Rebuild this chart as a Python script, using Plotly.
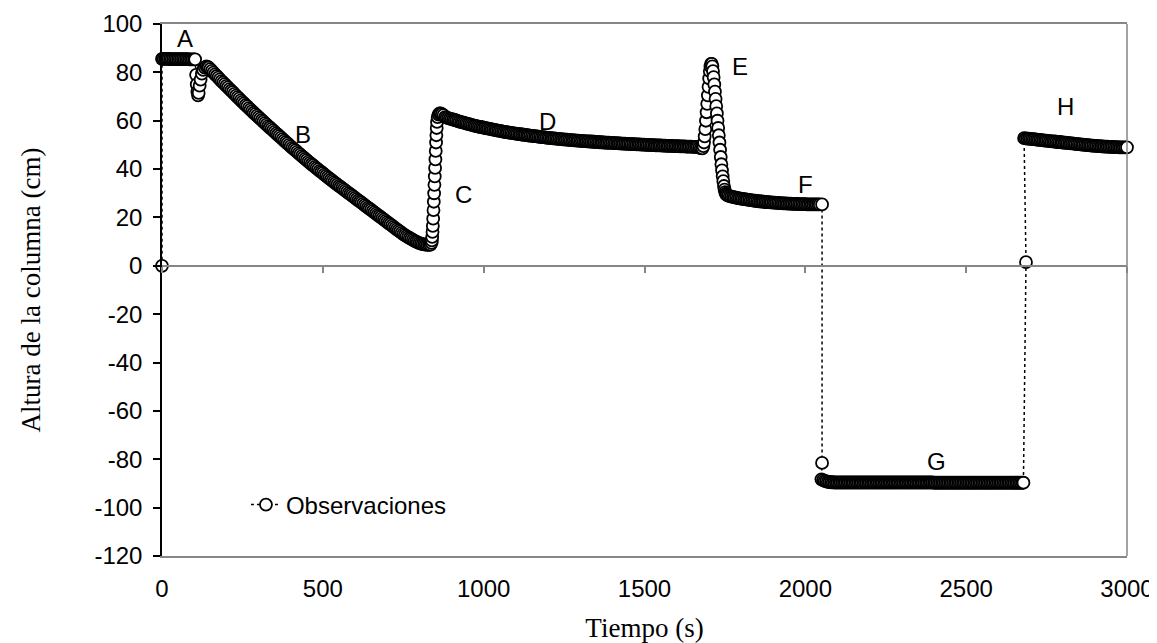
import plotly.graph_objects as go

# ---------------- data ----------------
# A: start + initial plateau
time_A = [0, 0, 5, 10, 15, 20, 25, 30, 35, 40, 45, 50, 55, 60, 65, 70, 75, 80, 85, 90, 95, 100, 103]
height_A = [0.0, 85.6, 85.6, 85.6, 85.6, 85.6, 85.5, 85.5, 85.5, 85.5, 85.5, 85.5, 85.5, 85.5,
            85.5, 85.5, 85.5, 85.5, 85.4, 85.4, 85.4, 85.4, 85.4]

# A -> B dip
time_AB = [106, 108, 110, 112, 114, 117, 120, 124, 128, 133, 138, 142]
height_AB = [79.0, 75.0, 72.0, 70.5, 71.5, 74.5, 77.0, 79.5, 81.0, 82.0, 82.5, 82.3]

# B: draining
time_B = [145, 150, 155, 160, 165, 170, 175, 180, 185, 190,
          195, 200, 205, 210, 215, 220, 225, 230, 235, 240,
          245, 250, 255, 260, 265, 270, 275, 280, 285, 290,
          295, 300, 305, 310, 315, 320, 325, 330, 335, 340,
          345, 350, 355, 360, 365, 370, 375, 380, 385, 390,
          395, 400, 405, 410, 415, 420, 425, 430, 435, 440,
          445, 450, 455, 460, 465, 470, 475, 480, 485, 490,
          495, 500, 505, 510, 515, 520, 525, 530, 535, 540,
          545, 550, 555, 560, 565, 570, 575, 580, 585, 590,
          595, 600, 605, 610, 615, 620, 625, 630, 635, 640,
          645, 650, 655, 660, 665, 670, 675, 680, 685, 690,
          695, 700, 705, 710, 715, 720, 725, 730, 735, 740,
          745, 750, 755, 760, 765, 770, 775, 780, 785, 790,
          795, 800, 805, 810, 815, 820, 825, 830, 835]
height_B = [82.0, 81.3, 80.6, 79.9, 79.2, 78.5, 77.8, 77.1, 76.4, 75.8,
            75.1, 74.4, 73.8, 73.1, 72.4, 71.8, 71.1, 70.4, 69.8, 69.1,
            68.4, 67.8, 67.2, 66.5, 65.9, 65.2, 64.6, 64.0, 63.3, 62.7,
            62.1, 61.5, 60.9, 60.2, 59.6, 59.0, 58.4, 57.8, 57.2, 56.6,
            56.0, 55.4, 54.8, 54.2, 53.6, 53.0, 52.4, 51.8, 51.2, 50.6,
            50.0, 49.4, 48.8, 48.3, 47.7, 47.1, 46.5, 46.0, 45.4, 44.8,
            44.2, 43.7, 43.1, 42.6, 42.0, 41.5, 40.9, 40.4, 39.9, 39.3,
            38.8, 38.3, 37.7, 37.2, 36.7, 36.2, 35.6, 35.1, 34.6, 34.1,
            33.6, 33.1, 32.6, 32.1, 31.6, 31.1, 30.6, 30.1, 29.6, 29.1,
            28.6, 28.1, 27.6, 27.1, 26.6, 26.1, 25.6, 25.1, 24.6, 24.1,
            23.6, 23.1, 22.6, 22.1, 21.6, 21.1, 20.6, 20.1, 19.6, 19.1,
            18.6, 18.1, 17.6, 17.1, 16.6, 16.1, 15.6, 15.1, 14.6, 14.1,
            13.6, 13.1, 12.7, 12.3, 11.9, 11.5, 11.1, 10.7, 10.3, 10.0,
            9.7, 9.4, 9.2, 9.0, 8.9, 8.8, 8.7, 8.7, 8.8]

# C: refill
time_C = [838, 839, 840, 841, 842, 843, 844, 845, 846, 847, 848, 849, 850, 851, 852, 853,
          854, 855, 857, 860, 863, 866, 870, 875]
height_C = [9.5, 10.5, 12.0, 14.0, 16.5, 19.5, 23.0, 26.5, 30.0, 33.5, 37.0, 40.5, 44.0, 47.5,
            51.0, 54.0, 57.0, 59.5, 61.5, 62.5, 63.0, 63.0, 62.7, 62.3]

# D: slow decline
time_D = [880, 885, 890, 895, 900, 905, 910, 915, 920, 925,
          930, 935, 940, 945, 950, 955, 960, 965, 970, 975,
          980, 985, 990, 995, 1000, 1005, 1010, 1015, 1020, 1025,
          1030, 1035, 1040, 1045, 1050, 1055, 1060, 1065, 1070, 1075,
          1080, 1085, 1090, 1095, 1100, 1105, 1110, 1115, 1120, 1125,
          1130, 1135, 1140, 1145, 1150, 1155, 1160, 1165, 1170, 1175,
          1180, 1185, 1190, 1195, 1200, 1205, 1210, 1215, 1220, 1225,
          1230, 1235, 1240, 1245, 1250, 1255, 1260, 1265, 1270, 1275,
          1280, 1285, 1290, 1295, 1300, 1305, 1310, 1315, 1320, 1325,
          1330, 1335, 1340, 1345, 1350, 1355, 1360, 1365, 1370, 1375,
          1380, 1385, 1390, 1395, 1400, 1405, 1410, 1415, 1420, 1425,
          1430, 1435, 1440, 1445, 1450, 1455, 1460, 1465, 1470, 1475,
          1480, 1485, 1490, 1495, 1500, 1505, 1510, 1515, 1520, 1525,
          1530, 1535, 1540, 1545, 1550, 1555, 1560, 1565, 1570, 1575,
          1580, 1585, 1590, 1595, 1600, 1605, 1610, 1615, 1620, 1625,
          1630, 1635, 1640, 1645, 1650, 1655, 1660, 1665, 1670, 1675,
          1680]
height_D = [61.5, 61.3, 61.1, 60.9, 60.7, 60.5, 60.3, 60.1, 59.8, 59.6,
            59.4, 59.3, 59.1, 58.9, 58.7, 58.6, 58.4, 58.2, 58.0, 57.9,
            57.7, 57.6, 57.4, 57.3, 57.1, 57.0, 56.8, 56.7, 56.6, 56.4,
            56.3, 56.2, 56.0, 55.9, 55.8, 55.7, 55.5, 55.4, 55.3, 55.2,
            55.1, 55.0, 54.9, 54.8, 54.7, 54.6, 54.5, 54.4, 54.3, 54.2,
            54.1, 54.0, 53.9, 53.8, 53.7, 53.6, 53.6, 53.5, 53.4, 53.3,
            53.2, 53.2, 53.1, 53.0, 52.9, 52.9, 52.8, 52.7, 52.7, 52.6,
            52.5, 52.5, 52.4, 52.3, 52.3, 52.2, 52.2, 52.1, 52.0, 52.0,
            51.9, 51.9, 51.8, 51.8, 51.7, 51.7, 51.6, 51.6, 51.5, 51.5,
            51.4, 51.4, 51.3, 51.3, 51.2, 51.2, 51.1, 51.1, 51.0, 51.0,
            50.9, 50.9, 50.9, 50.8, 50.8, 50.7, 50.7, 50.7, 50.6, 50.6,
            50.5, 50.5, 50.5, 50.4, 50.4, 50.4, 50.3, 50.3, 50.3, 50.2,
            50.2, 50.2, 50.1, 50.1, 50.1, 50.0, 50.0, 50.0, 49.9, 49.9,
            49.9, 49.8, 49.8, 49.8, 49.8, 49.7, 49.7, 49.7, 49.6, 49.6,
            49.6, 49.6, 49.5, 49.5, 49.5, 49.5, 49.4, 49.4, 49.4, 49.4,
            49.3, 49.3, 49.3, 49.3, 49.2, 49.2, 49.2, 49.2, 48.9, 48.7,
            48.6]

# E: spike
time_E = [1683, 1685, 1687, 1689, 1691, 1693, 1695, 1697, 1699, 1701, 1703, 1705, 1707, 1709,
          1711, 1713, 1715, 1717, 1719, 1721, 1723, 1725, 1727, 1729, 1731, 1733, 1735, 1737,
          1739, 1741, 1743, 1745, 1747, 1749, 1751, 1753, 1756, 1760]
height_E = [49.5, 51.0, 53.5, 56.5, 60.0, 63.5, 67.0, 70.5, 74.0, 77.5, 80.5, 82.5, 83.5, 83.5,
            82.5, 80.5, 78.0, 75.0, 72.0, 69.0, 66.0, 63.0, 60.0, 57.0, 54.0, 51.0, 48.0, 45.0,
            42.0, 39.5, 37.0, 35.0, 33.0, 31.5, 30.5, 29.8, 29.3, 29.0]

# F: low plateau
time_F = [1765, 1770, 1775, 1780, 1785, 1790, 1795, 1800, 1805, 1810,
          1815, 1820, 1825, 1830, 1835, 1840, 1845, 1850, 1855, 1860,
          1865, 1870, 1875, 1880, 1885, 1890, 1895, 1900, 1905, 1910,
          1915, 1920, 1925, 1930, 1935, 1940, 1945, 1950, 1955, 1960,
          1965, 1970, 1975, 1980, 1985, 1990, 1995, 2000, 2005, 2010,
          2015, 2020, 2025, 2030, 2035, 2040, 2045, 2052]
height_F = [28.8, 28.6, 28.5, 28.3, 28.2, 28.0, 27.9, 27.8, 27.7, 27.6,
            27.5, 27.4, 27.3, 27.2, 27.1, 27.0, 26.9, 26.8, 26.7, 26.6,
            26.6, 26.5, 26.4, 26.4, 26.3, 26.2, 26.2, 26.1, 26.1, 26.0,
            26.0, 25.9, 25.9, 25.8, 25.8, 25.8, 25.7, 25.7, 25.7, 25.6,
            25.6, 25.6, 25.6, 25.5, 25.5, 25.5, 25.5, 25.5, 25.4, 25.4,
            25.4, 25.4, 25.4, 25.4, 25.4, 25.4, 25.4, 25.4]

# F -> G transition
time_FG = [2052]
height_FG = [-81.5]

# G: negative plateau
time_G = [2050, 2055, 2060, 2065, 2070, 2075, 2080, 2085, 2090, 2095,
          2100, 2105, 2110, 2115, 2120, 2125, 2130, 2135, 2140, 2145,
          2150, 2155, 2160, 2165, 2170, 2175, 2180, 2185, 2190, 2195,
          2200, 2205, 2210, 2215, 2220, 2225, 2230, 2235, 2240, 2245,
          2250, 2255, 2260, 2265, 2270, 2275, 2280, 2285, 2290, 2295,
          2300, 2305, 2310, 2315, 2320, 2325, 2330, 2335, 2340, 2345,
          2350, 2355, 2360, 2365, 2370, 2375, 2380, 2385, 2390, 2395,
          2400, 2405, 2410, 2415, 2420, 2425, 2430, 2435, 2440, 2445,
          2450, 2455, 2460, 2465, 2470, 2475, 2480, 2485, 2490, 2495,
          2500, 2505, 2510, 2515, 2520, 2525, 2530, 2535, 2540, 2545,
          2550, 2555, 2560, 2565, 2570, 2575, 2580, 2585, 2590, 2595,
          2600, 2605, 2610, 2615, 2620, 2625, 2630, 2635, 2640, 2645,
          2650, 2655, 2660, 2665, 2670, 2675, 2678]
height_G = [-88.3, -88.6, -88.9, -89.1, -89.3, -89.4, -89.5, -89.5, -89.6, -89.6,
            -89.6, -89.6, -89.6, -89.6, -89.6, -89.6, -89.6, -89.6, -89.6, -89.6,
            -89.6, -89.6, -89.6, -89.6, -89.6, -89.6, -89.6, -89.6, -89.6, -89.6,
            -89.6, -89.6, -89.6, -89.6, -89.6, -89.6, -89.6, -89.6, -89.6, -89.6,
            -89.6, -89.6, -89.6, -89.6, -89.6, -89.6, -89.6, -89.6, -89.6, -89.6,
            -89.6, -89.6, -89.6, -89.6, -89.6, -89.6, -89.6, -89.6, -89.6, -89.6,
            -89.6, -89.6, -89.6, -89.6, -89.6, -89.6, -89.6, -89.6, -89.6, -89.6,
            -89.7, -89.7, -89.7, -89.7, -89.7, -89.7, -89.7, -89.7, -89.7, -89.7,
            -89.7, -89.7, -89.7, -89.7, -89.7, -89.7, -89.7, -89.7, -89.7, -89.7,
            -89.7, -89.7, -89.7, -89.7, -89.7, -89.7, -89.7, -89.7, -89.7, -89.7,
            -89.7, -89.7, -89.7, -89.7, -89.7, -89.7, -89.7, -89.7, -89.7, -89.7,
            -89.7, -89.7, -89.7, -89.7, -89.7, -89.7, -89.7, -89.7, -89.7, -89.7,
            -89.7, -89.7, -89.7, -89.7, -89.7, -89.7, -89.7]

# G -> H transition
time_GH = [2686]
height_GH = [1.5]

# H: final plateau
time_H = [2680, 2685, 2690, 2695, 2700, 2705, 2710, 2715, 2720, 2725,
          2730, 2735, 2740, 2745, 2750, 2755, 2760, 2765, 2770, 2775,
          2780, 2785, 2790, 2795, 2800, 2805, 2810, 2815, 2820, 2825,
          2830, 2835, 2840, 2845, 2850, 2855, 2860, 2865, 2870, 2875,
          2880, 2885, 2890, 2895, 2900, 2905, 2910, 2915, 2920, 2925,
          2930, 2935, 2940, 2945, 2950, 2955, 2960, 2965, 2970, 2975,
          2980, 2985, 2990, 2995, 3000]
height_H = [52.8, 52.7, 52.6, 52.6, 52.5, 52.4, 52.4, 52.3, 52.2, 52.1,
            52.1, 52.0, 51.9, 51.8, 51.8, 51.7, 51.6, 51.5, 51.5, 51.4,
            51.3, 51.2, 51.2, 51.1, 51.0, 50.9, 50.9, 50.8, 50.7, 50.6,
            50.6, 50.5, 50.4, 50.3, 50.3, 50.2, 50.1, 50.1, 50.0, 49.9,
            49.9, 49.8, 49.7, 49.7, 49.6, 49.6, 49.5, 49.5, 49.4, 49.4,
            49.3, 49.3, 49.3, 49.2, 49.2, 49.2, 49.1, 49.1, 49.1, 49.0,
            49.0, 49.0, 49.0, 49.0, 49.0]

# segment labels
label_text = ["A", "B", "C", "D", "E", "F", "G", "H"]
label_x = [71, 438, 936, 1197, 1797, 1999, 2409, 2808]
label_y = [93.8, 54.3, 29.6, 59.5, 82.5, 33.7, -81.1, 66.0]

# axis ticks
x_tick_vals = [0, 500, 1000, 1500, 2000, 2500, 3000]
x_tick_text = ["0", "500", "1000", "1500", "2000", "2500", "3000"]
y_tick_vals = [100, 80, 60, 40, 20, 0, -20, -40, -60, -80, -100, -120]
y_tick_text = ["100", "80", "60", "40", "20", "0", "-20", "-40", "-60", "-80", "-100", "-120"]

series_name = "Observaciones"
x_title = "Tiempo (s)"
y_title = "Altura de la columna (cm)"

# ---------------- figure ----------------
time_all = (time_A + time_AB + time_B + time_C + time_D + time_E + time_F
            + time_FG + time_G + time_GH + time_H)
height_all = (height_A + height_AB + height_B + height_C + height_D + height_E + height_F
              + height_FG + height_G + height_GH + height_H)

SANS = "Liberation Sans, Arial, sans-serif"
SERIF = "Liberation Serif, Times New Roman, serif"
GREY = "#868686"

fig = go.Figure()
fig.add_trace(go.Scatter(
    x=time_all, y=height_all, name=series_name, mode="lines+markers",
    line=dict(color="black", width=1.5, dash="dot"),
    marker=dict(symbol="circle", size=12, color="white",
                line=dict(color="black", width=1.8)),
    cliponaxis=False,
))
# empty helper trace so that the zero-line axis (x2) is drawn
fig.add_trace(go.Scatter(x=[], y=[], xaxis="x2", yaxis="y", showlegend=False,
                         hoverinfo="skip"))

annotations = []
for t, xx, yy in zip(label_text, label_x, label_y):
    annotations.append(dict(x=xx, y=yy, xref="x", yref="y", text=t, showarrow=False,
                            xanchor="center", yanchor="middle",
                            font=dict(family=SANS, size=24, color="black")))

# the page adds an 8 px body margin; margins compensate for that offset
fig.update_layout(
    width=1157, height=643,
    margin=dict(l=154, r=38, t=16, b=95),
    paper_bgcolor="white", plot_bgcolor="white",
    showlegend=True,
    legend=dict(x=0.087, y=0.096, xanchor="left", yanchor="middle",
                bgcolor="rgba(0,0,0,0)",
                font=dict(family=SANS, size=24, color="black")),
    annotations=annotations,
    xaxis=dict(range=[0, 3000], tickvals=x_tick_vals, ticktext=x_tick_text,
               showgrid=False, zeroline=False, showline=True, linecolor=GREY,
               linewidth=1.5, mirror=True, ticks="", automargin=False,
               ticklabelstandoff=10,
               tickfont=dict(family=SANS, size=24, color="black"),
               title=dict(text=x_title, standoff=18,
                          font=dict(family=SERIF, size=27, color="black"))),
    xaxis2=dict(overlaying="x", anchor="free", position=120 / 220, side="bottom",
                range=[0, 3000], tickvals=x_tick_vals, showticklabels=False,
                ticks="outside", ticklen=6, tickwidth=1.5, tickcolor=GREY,
                showline=True, linecolor=GREY, linewidth=1.5,
                showgrid=False, zeroline=False, automargin=False),
    yaxis=dict(range=[-120, 100], tickvals=y_tick_vals, ticktext=y_tick_text,
               ticks="outside", ticklen=7, tickwidth=1.5, tickcolor="black",
               showline=True, linecolor="black", linewidth=1.5,
               showgrid=False, zeroline=False, automargin=False,
               ticklabelstandoff=6,
               tickfont=dict(family=SANS, size=24, color="black"),
               title=dict(text=y_title, standoff=46,
                          font=dict(family=SERIF, size=27, color="black"))),
    shapes=[dict(type="line", xref="paper", yref="paper", x0=1, x1=1, y0=0, y1=1,
                 line=dict(color=GREY, width=1.5))],
)

fig.write_html("out.html")
